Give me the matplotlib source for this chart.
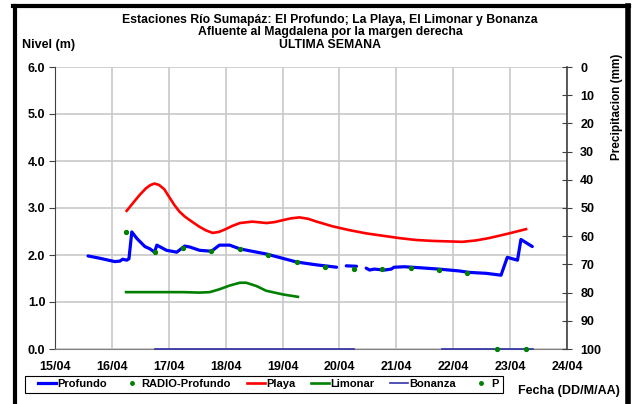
import numpy as np
import matplotlib
matplotlib.use("Agg")
import matplotlib.pyplot as plt
from matplotlib.lines import Line2D
from matplotlib.patches import Rectangle

plt.rcParams['font.family'] = ['Liberation Sans', 'DejaVu Sans']
plt.rcParams['font.weight'] = 'bold'

# x values: days since 15/04
day_labels = ["15/04", "16/04", "17/04", "18/04", "19/04", "20/04", "21/04", "22/04", "23/04", "24/04"]

profundo_x = [0.58, 0.79, 1.05, 1.14, 1.19, 1.26, 1.30, 1.35, 1.44, 1.58, 1.67, 1.75, 1.79, 1.96,
              2.14, 2.28, 2.37, 2.54, 2.75, 2.89, 3.07, 3.25, 3.72, 4.25, 4.60, 4.95, np.nan,
              5.12, 5.30, np.nan,
              5.47, 5.53, 5.61, 5.79, 5.91, 5.96, 6.14, 6.40, 6.75, 7.11, 7.28, 7.58, 7.84,
              7.95, 8.13, 8.19, 8.39]
profundo_y = [1.98, 1.93, 1.86, 1.87, 1.91, 1.89, 1.92, 2.49, 2.35, 2.18, 2.13, 2.06, 2.21, 2.10,
              2.06, 2.19, 2.17, 2.10, 2.08, 2.21, 2.21, 2.13, 2.02, 1.85, 1.79, 1.74, np.nan,
              1.77, 1.76, np.nan,
              1.72, 1.68, 1.70, 1.68, 1.70, 1.74, 1.75, 1.73, 1.70, 1.66, 1.63, 1.61, 1.57,
              1.95, 1.89, 2.33, 2.18]

radio_x = [1.25, 1.75, 2.25, 2.75, 3.25, 3.75, 4.25, 4.75, 5.25, 5.75, 6.25, 6.75, 7.25]
radio_y = [2.49, 2.06, 2.15, 2.08, 2.12, 2.01, 1.86, 1.75, 1.70, 1.70, 1.72, 1.68, 1.62]

playa_x = [1.26, 1.38, 1.49, 1.60, 1.68, 1.75, 1.83, 1.92, 2.02, 2.10, 2.19, 2.28, 2.37, 2.54,
           2.66, 2.77, 2.88, 3.00, 3.12, 3.25, 3.47, 3.72, 3.86, 4.00, 4.15, 4.30, 4.45, 4.60,
           4.88, 5.17, 5.47, 5.76, 6.05, 6.34, 6.63, 6.90, 7.16, 7.40, 7.63, 7.95, 8.28]
playa_y = [2.94, 3.12, 3.28, 3.42, 3.49, 3.52, 3.49, 3.40, 3.21, 3.06, 2.92, 2.82, 2.74, 2.60,
           2.52, 2.47, 2.49, 2.55, 2.62, 2.68, 2.71, 2.68, 2.70, 2.74, 2.78, 2.80, 2.77, 2.71,
           2.61, 2.53, 2.46, 2.41, 2.36, 2.32, 2.30, 2.29, 2.28, 2.31, 2.36, 2.45, 2.55]

limonar_x = [1.25, 1.75, 2.25, 2.54, 2.72, 2.89, 3.07, 3.25, 3.36, 3.54, 3.71, 4.01, 4.27]
limonar_y = [1.21, 1.21, 1.21, 1.20, 1.21, 1.27, 1.35, 1.41, 1.41, 1.34, 1.24, 1.16, 1.11]

bonanza_x = [1.75, 5.25, np.nan, 6.80, 8.40]
bonanza_y = [0.0, 0.0, np.nan, 0.0, 0.0]

p_x = [7.77, 8.28]
p_y = [0.0, 0.0]

fig = plt.figure(figsize=(6.32, 4.04), dpi=100)
ax = fig.add_axes([55 / 632, 1 - 349 / 404, 512 / 632, 282 / 404])

ax.plot(profundo_x, profundo_y, color='#0000ff', lw=2.3, solid_capstyle='round',
        solid_joinstyle='round', zorder=5)
ax.plot(radio_x, radio_y, ls='none', marker='o', ms=2.8, color='#008000', zorder=6)
ax.plot(playa_x, playa_y, color='#ff0000', lw=1.9, solid_joinstyle='round', zorder=4)
ax.plot(limonar_x, limonar_y, color='#008000', lw=1.9, solid_joinstyle='round', zorder=4)
ax.plot(bonanza_x, bonanza_y, color='#3333aa', lw=1.2, zorder=4, clip_on=False)
ax.plot(p_x, p_y, ls='none', marker='o', ms=2.8, color='#008000', zorder=6, clip_on=False)

ax.set_xlim(0, 9)
ax.set_ylim(0, 6)
ax.set_xticks(range(10))
ax.set_xticklabels(day_labels, fontsize=9, fontweight='bold')
ax.set_yticks(np.arange(0, 6.1, 1.0))
ax.set_yticklabels(["%.1f" % v for v in np.arange(0, 6.1, 1.0)], fontsize=9, fontweight='bold')
ax.grid(True, color='#c8c8c8', lw=1.2)
ax.set_axisbelow(True)
for s in ['top', 'right']:
    ax.spines[s].set_visible(False)
ax.spines['left'].set_color('#404040')
ax.spines['bottom'].set_color('#808080')
ax.tick_params(axis='y', length=4, color='#404040', pad=3)
ax.tick_params(axis='x', length=0, pad=9)

ax2 = ax.twinx()
ax2.set_ylim(100, 0)
ax2.set_yticks(range(0, 101, 10))
ax2.set_yticklabels([str(v) for v in range(0, 101, 10)], fontsize=9, fontweight='bold')
ax2.tick_params(axis='y', direction='inout', length=7, color='#404040', pad=6)
for s in ['top', 'left', 'bottom']:
    ax2.spines[s].set_visible(False)
ax2.spines['right'].set_color('#404040')
ax2.spines['right'].set_linewidth(1.2)

title_lines = ["Estaciones Río Sumapáz: El Profundo; La Playa, El Limonar y Bonanza",
               "Afluente al Magdalena por la margen derecha",
               "ULTIMA SEMANA"]
for txt, yy in zip(title_lines, [20, 32.5, 45]):
    fig.text(330 / 632, 1 - yy / 404, txt, ha='center', va='center', fontsize=8.8, fontweight='bold')
fig.text(22 / 632, 1 - 45 / 404, "Nivel (m)", ha='left', va='center', fontsize=9, fontweight='bold')
fig.text(617 / 632, 1 - 107 / 404, "Precipitacion (mm)", ha='center', va='center',
         rotation=90, fontsize=8.5, fontweight='bold')
fig.text(569 / 632, 1 - 391 / 404, "Fecha (DD/M/AA)", ha='center', va='center',
         fontsize=9, fontweight='bold')

handles = [
    Line2D([], [], color='#0000ff', lw=2.3),
    Line2D([], [], ls='none', marker='o', ms=2.5, color='#008000'),
    Line2D([], [], color='#ff0000', lw=1.9),
    Line2D([], [], color='#008000', lw=1.9),
    Line2D([], [], color='#3333aa', lw=1.2),
    Line2D([], [], ls='none', marker='o', ms=2.5, color='#008000'),
]
labels = ["Profundo", "RADIO-Profundo", "Playa", "Limonar", "Bonanza", "P"]
leg = fig.legend(handles, labels, loc='center left', bbox_to_anchor=(38 / 632, 1 - 384 / 404),
                 ncol=6, fontsize=8, frameon=False,
                 handlelength=1.6, handletextpad=0.1, columnspacing=1.45, borderpad=0,
                 borderaxespad=0)
for t in leg.get_texts():
    t.set_fontweight('bold')
fig.add_artist(Rectangle((25 / 632, 1 - 392.5 / 404), 478 / 632, 17 / 404, fill=False,
                         edgecolor='black', lw=0.8, transform=fig.transFigure))

# outer black frame
fig.add_artist(Line2D([14.5 / 632, 14.5 / 632], [0, 1 - 5.5 / 404], color='black', lw=3,
                      transform=fig.transFigure))
fig.add_artist(Line2D([13 / 632, 629 / 632], [1 - 5.5 / 404, 1 - 5.5 / 404], color='black', lw=3,
                      transform=fig.transFigure))
fig.add_artist(Line2D([628 / 632, 628 / 632], [0, 1 - 5.5 / 404], color='black', lw=4,
                      transform=fig.transFigure))

fig.savefig("out.png", dpi=100)
